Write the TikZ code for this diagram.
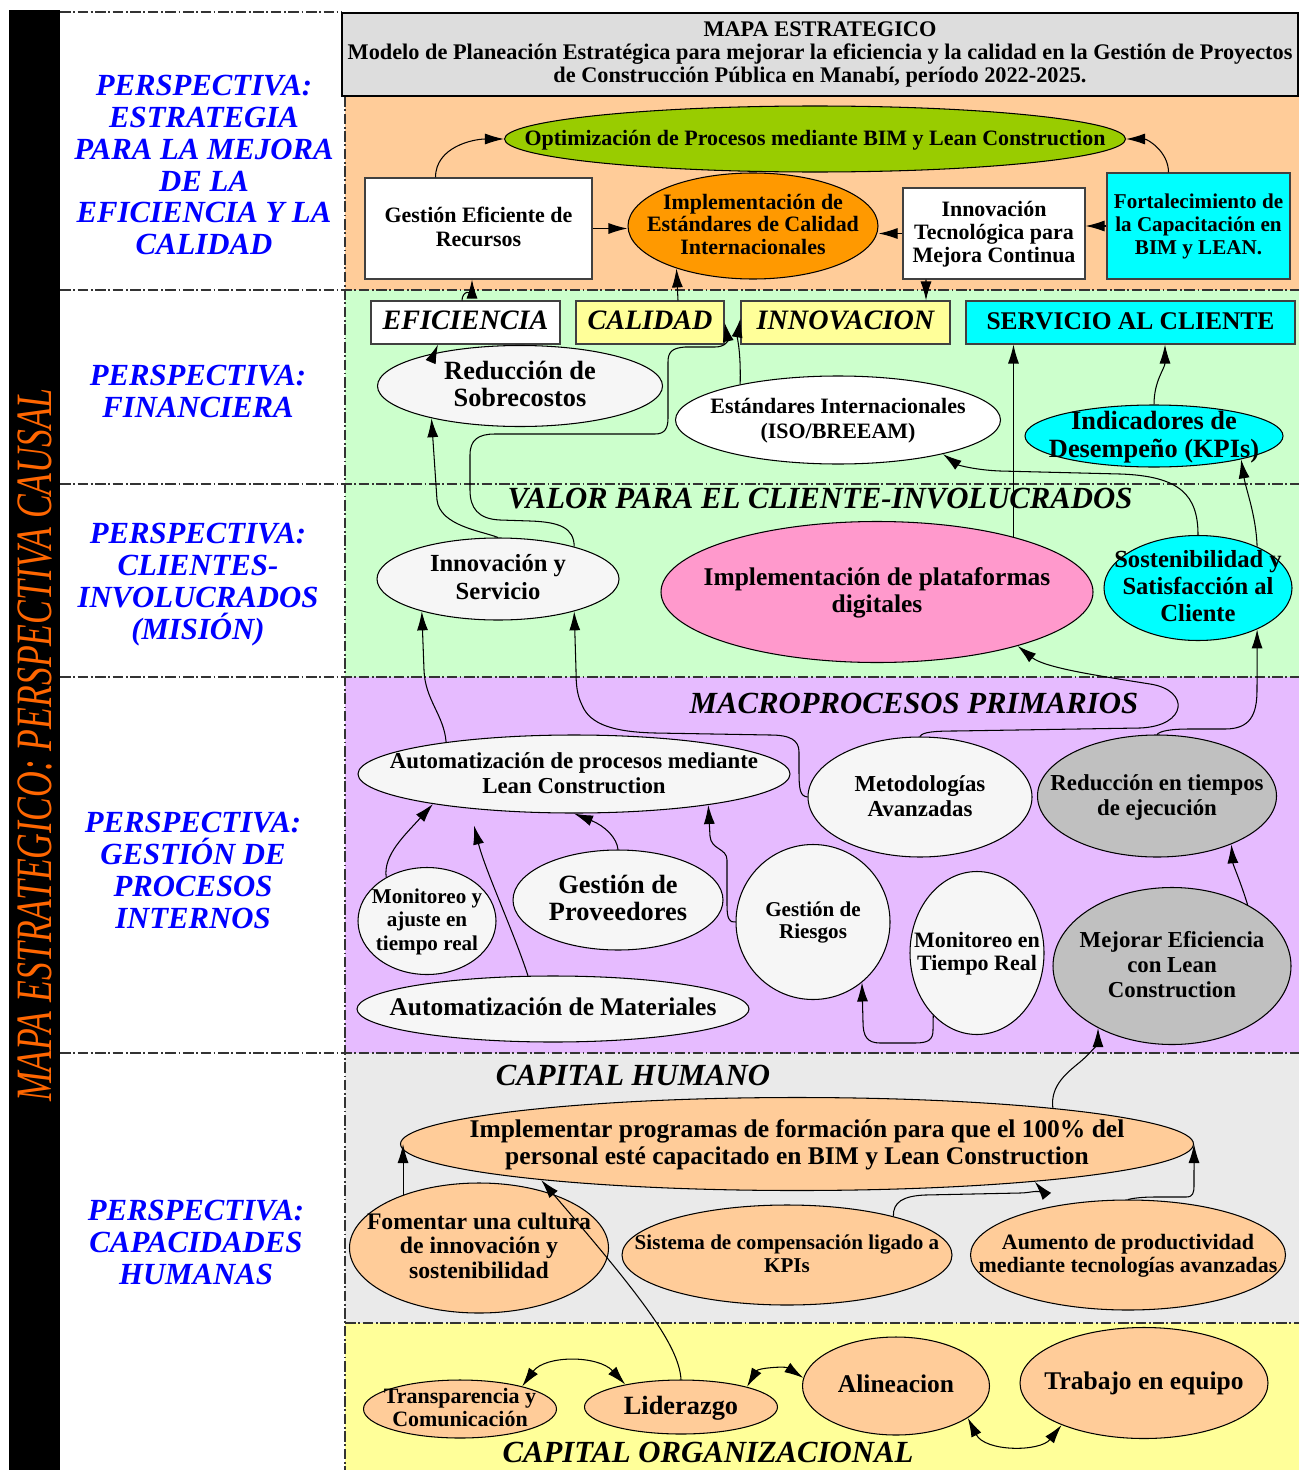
\documentclass[tikz,border=0pt]{standalone}
\usepackage{fontspec}
\usepackage{graphicx}
\setmainfont{Liberation Serif}
\usepackage{xcolor}
\usepackage{tikz}
\usetikzlibrary{arrows.meta,shapes.geometric,calc}

\definecolor{bandorange}{RGB}{255,204,153}
\definecolor{bandgreen}{RGB}{204,255,204}
\definecolor{bandlilac}{RGB}{230,187,255}
\definecolor{bandgray}{RGB}{234,234,234}
\definecolor{bandyellow}{RGB}{255,255,153}
\definecolor{headgray}{RGB}{221,221,221}
\definecolor{limegreen}{RGB}{153,204,0}
\definecolor{deeporange}{RGB}{255,153,0}
\definecolor{paleyellow}{RGB}{255,255,153}
\definecolor{pinkfill}{RGB}{255,153,204}
\definecolor{lightfill}{RGB}{246,246,246}
\definecolor{midgray}{RGB}{192,192,192}
\definecolor{peach}{RGB}{255,204,153}
\definecolor{aqua}{RGB}{0,255,255}
\definecolor{causal}{RGB}{255,102,0}

% centred text that does not make the shape grow
\newcommand{\ctr}[1]{\smash{\makebox[0pt]{\raisebox{-0.3em}{\begin{tabular}{@{}c@{}}#1\end{tabular}}}}}

\tikzset{
  oval/.style={ellipse, draw=black, line width=0.6pt, inner sep=0pt},
  sqbox/.style={rectangle, draw=black!75, line width=0.6pt, inner sep=0pt},
  sz/.style 2 args={minimum width=#1*0.02cm, minimum height=#2*0.02cm},
  fs/.style 2 args={font=\bfseries\fontsize{#1}{#2}\selectfont},
  tagbox/.style={sqbox, font=\bfseries\itshape\fontsize{16}{18}\selectfont},
  arr/.style={-{Latex[length=3.8mm,width=2.2mm]}, line width=0.6pt},
  darr/.style={{Latex[length=3.8mm,width=2.2mm]}-{Latex[length=3.8mm,width=2.2mm]}, line width=0.6pt},
  sepline/.style={line width=0.7pt, black!80, dash pattern=on 6pt off 1.5pt on 1pt off 1.5pt},
  persp/.style={text=blue, align=center, font=\bfseries\itshape\fontsize{17.5}{18.2}\selectfont},
  band/.style={font=\bfseries\itshape\fontsize{17.5}{18}\selectfont},
}

\begin{document}
\begin{tikzpicture}[x=0.02cm,y=-0.02cm]
\useasboundingbox (0,0) rectangle (1299,1470);

% bands
\fill[bandorange] (345,96) rectangle (1299,290);
\fill[bandgreen] (345,290) rectangle (1299,677);
\fill[bandlilac] (345,677) rectangle (1299,1053);
\fill[bandgray] (345,1053) rectangle (1299,1323);
\fill[bandyellow] (345,1323) rectangle (1299,1470);
\fill[black] (9,10) rectangle (60,1470);
\draw[sepline] (60,12) -- (342,12);
\foreach \yy in {290,484,677,1053}
  \draw[sepline] (60,\yy) -- (1299,\yy);
\draw[sepline] (345,1323) -- (1299,1323);
\draw[sepline] (345,96) -- (345,1470);

% header
\node[draw=black, line width=0.8pt, fill=headgray, sz={956}{83}, inner sep=0pt, align=center,
  font=\bfseries\fontsize{12.7}{13}\selectfont] (head) at (820,54.5)
  {MAPA ESTRATEGICO\\ Modelo de Planeación Estratégica para mejorar la eficiencia y la calidad en la Gestión de Proyectos\\ de Construcción Pública en Manabí, período 2022-2025.};

% left column
\node[rotate=90, text=causal, font=\itshape\fontsize{29}{29}\selectfont] (causal) at (35,745)
  {\scalebox{0.7}[1]{MAPA ESTRATEGICO: PERSPECTIVA CAUSAL}};
\node[persp] (pEst) at (204,165) {PERSPECTIVA:\\ ESTRATEGIA\\ PARA LA MEJORA\\ DE LA\\ EFICIENCIA Y LA\\ CALIDAD};
\node[persp] (pFin) at (198,391) {PERSPECTIVA:\\ FINANCIERA};
\node[persp] (pCli) at (198,585) {PERSPECTIVA:\\ CLIENTES-\\ INVOLUCRADOS\\ (MISIÓN)};
\node[persp] (pPro) at (193,870) {PERSPECTIVA:\\ GESTIÓN DE\\ PROCESOS\\ INTERNOS};
\node[persp] (pCap) at (196,1242) {PERSPECTIVA:\\ CAPACIDADES\\ HUMANAS};

% band titles
\node[band] (tValor) at (820,499) {VALOR PARA EL CLIENTE-INVOLUCRADOS};
\node[band] (tMacro) at (914,703) {MACROPROCESOS PRIMARIOS};
\node[band] (tHum) at (633,1075) {CAPITAL HUMANO};
\node[band] (tOrg) at (708,1452) {CAPITAL ORGANIZACIONAL};

% estrategia
\node[oval, fill=limegreen, sz={621}{66}, fs={12.5}{14}] (opt) at (815,139) {\ctr{Optimización de Procesos mediante BIM y Lean Construction}};
\node[sqbox, fill=white, sz={227}{101}, fs={12.5}{13.5}] (gest) at (478.5,228.5) {\ctr{Gestión Eficiente de\\ Recursos}};
\node[oval, fill=deeporange, sz={250}{106}, fs={12.5}{13}] (impl) at (753,226) {\ctr{Implementación de\\ Estándares de Calidad\\ Internacionales}};
\node[sqbox, fill=white, sz={182}{91}, fs={12.5}{13}] (innov) at (994,233.5) {\ctr{Innovación\\ Tecnológica para\\ Mejora Continua}};
\node[sqbox, fill=aqua, sz={183}{106}, fs={12}{13}] (fort) at (1198.5,226) {\ctr{Fortalecimiento de\\ la Capacitación en\\ BIM y LEAN.}};

% financiera
\node[tagbox, fill=white, sz={189}{43}] (efic) at (465.5,322.5) {\ctr{EFICIENCIA}};
\node[tagbox, fill=paleyellow, sz={148}{43}] (cal) at (650,322.5) {\ctr{CALIDAD}};
\node[tagbox, fill=paleyellow, sz={209}{43}] (innv) at (845.5,322.5) {\ctr{INNOVACION}};
\node[sqbox, fill=aqua, sz={329}{43}, fs={14.5}{16}] (serv) at (1130.5,322.5) {\ctr{SERVICIO AL CLIENTE}};
\node[oval, fill=lightfill, sz={285}{81}, fs={15}{15.5}] (redu) at (520,386) {\ctr{Reducción de\\ Sobrecostos}};
\node[oval, fill=white, sz={325}{88}, fs={12.5}{14}] (estd) at (838,420) {\ctr{Estándares Internacionales\\ (ISO/BREEAM)}};
\node[oval, fill=aqua, sz={258}{62}, fs={15}{16}] (kpi) at (1154,436) {\ctr{Indicadores de\\ Desempeño (KPIs)}};

% clientes
\node[oval, fill=lightfill, sz={242}{82}, fs={14}{15.5}] (innserv) at (498,579) {\ctr{Innovación y\\ Servicio}};
\node[oval, fill=pinkfill, sz={432}{141}, fs={14.5}{15.5}] (pink) at (877,592) {\ctr{Implementación de plataformas\\ digitales}};
\node[oval, fill=aqua, sz={188}{105}, fs={14}{15.5}] (sost) at (1198,588) {\ctr{Sostenibilidad y\\ Satisfacción al\\ Cliente}};

% procesos internos
\node[oval, fill=lightfill, sz={432}{78}, fs={13}{14.2}] (autp) at (574,774) {\ctr{Automatización de procesos mediante\\ Lean Construction}};
\node[oval, fill=lightfill, sz={224}{120}, fs={13}{14.2}] (met) at (920,797) {\ctr{Metodologías\\ Avanzadas}};
\node[oval, fill=midgray, sz={239}{122}, fs={13}{14.2}] (redt) at (1157,796) {\ctr{Reducción en tiempos\\ de ejecución}};
\node[oval, fill=lightfill, sz={138}{107}, fs={12}{13.4}] (monr) at (427,921) {\ctr{Monitoreo y\\ ajuste en\\ tiempo real}};
\node[oval, fill=lightfill, sz={210}{100}, fs={15}{15.5}] (gprov) at (618,900) {\ctr{Gestión de\\ Proveedores}};
\node[oval, fill=lightfill, sz={154}{155}, fs={12}{12.5}] (griesg) at (813,922) {\ctr{Gestión de\\ Riesgos}};
\node[oval, fill=lightfill, sz={134}{163}, fs={12.5}{13}] (montr) at (977,953) {\ctr{Monitoreo en\\ Tiempo Real}};
\node[oval, fill=midgray, sz={238}{157}, fs={13}{14.2}] (mejo) at (1172,966) {\ctr{Mejorar Eficiencia\\ con Lean\\ Construction}};
\node[oval, fill=lightfill, sz={392}{66}, fs={14.5}{16}] (autm) at (553,1009) {\ctr{Automatización de Materiales}};

% capital humano
\node[oval, fill=peach, sz={793}{93}, fs={14.5}{15.4}] (prog) at (797,1144) {\ctr{Implementar programas de formación para que el 100\% del\\ personal esté capacitado en BIM y Lean Construction}};
\node[oval, fill=peach, sz={259}{130}, fs={13.5}{14}] (fom) at (479,1248) {\ctr{Fomentar una cultura\\ de innovación y\\ sostenibilidad}};
\node[oval, fill=peach, sz={330}{100}, fs={12}{13}] (sist) at (787,1255) {\ctr{Sistema de compensación ligado a\\ KPIs}};
\node[oval, fill=peach, sz={315}{110}, fs={12.5}{13}] (aum) at (1128,1255) {\ctr{Aumento de productividad\\ mediante tecnologías avanzadas}};

% capital organizacional
\node[oval, fill=peach, sz={193}{58}, fs={12.5}{13}] (transp) at (460,1409) {\ctr{Transparencia y\\ Comunicación}};
\node[oval, fill=peach, sz={193}{54}, fs={15}{16}] (lid) at (681,1407) {\ctr{Liderazgo}};
\node[oval, fill=peach, sz={187}{98}, fs={14.5}{16}] (alin) at (896,1386) {\ctr{Alineacion}};
\node[oval, fill=peach, sz={248}{111}, fs={14.5}{16}] (trab) at (1144,1383) {\ctr{Trabajo en equipo}};

% arrows, estrategia
\draw[arr] ($(gest.north)+(-43,0)$) to[out=90,in=180] (opt.west);
\draw[arr] (gest.east) -- (gest.east -| impl.west);
\draw[arr] (innov.west) -- (innov.west -| impl.east);
\draw[arr] (fort.west) -- (fort.west -| innov.east);
\draw[arr] ($(fort.north)+(-30,0)$) to[out=90,in=0] (opt.east);
\draw[arr] ($(innov.south)+(-68,0)$) -- ($(innv.north)+(80.5,0)$);
\draw[arr] ($(cal.north)+(28,0)$) -- (impl.209.5);

% arrows, financiera
\draw[arr] ($(efic.north)+(-3.5,0)$) to[out=90,in=-90] ($(gest.south)+(-6.5,0)$);
\draw[arr] (redu.159) -- ($(efic.south)+(-27.5,0)$);
\draw[arr] (estd.160) .. controls (741,350) and (737,338) .. ($(innv.west)+(0,-4)$);
\draw[arr] (kpi.north) to[out=90,in=-90] ($(serv.south)+(34.5,0)$);

% arrows, clientes
\draw[arr] (innserv.23) .. controls (574,528) and (560,522) .. (530,521) -- (500,520)
  .. controls (478,519) and (470,508) .. (470,490) -- (470,455)
  .. controls (470,440) and (478,434) .. (495,434) -- (655,434)
  .. controls (665,434) and (668,428) .. (668,418) -- (668,362)
  .. controls (668,352) and (672,348) .. (685,347) -- (715,347)
  .. controls (726,347) and (728,340) .. (cal.east);
\draw[arr] (innserv.north) .. controls (482,531) and (440,526) .. (437,500) -- (redu.200);
\draw[arr] (pink.22.2) -- (pink.22.2 |- serv.south);
\draw[arr] (sost.north) .. controls (1198,495) and (1180,476) .. (1120,474) -- (1000,471)
  .. controls (975,470) and (958,465) .. (estd.342.5);
\draw[arr] (sost.35.5) .. controls (1256,515) and (1246,490) .. (kpi.345);

% arrows, procesos
\draw[arr] (autp.166.6) .. controls (444,715) and (425,700) .. (424,670) -- (innserv.203.6);
\draw[arr] (met.west) .. controls (800,796) and (799,790) .. (799,770) -- (799,752)
  .. controls (799,740) and (790,735) .. (770,735) -- (655,733)
  .. controls (615,732) and (590,725) .. (582,705)
  .. controls (577,695) and (576,685) .. (576,670) -- (innserv.337);
\draw[arr] (met.north) .. controls (922,732) and (935,731) .. (955,731) -- (1140,728)
  .. controls (1188,726) and (1190,690) .. (1150,684)
  .. controls (1100,676) and (1045,668) .. (pink.339.7);
\draw[arr] (redt.north) .. controls (1160,731) and (1170,729) .. (1190,729) -- (1225,729)
  .. controls (1250,729) and (1257,715) .. (1257,690) -- (sost.325.3);
\draw[arr] (monr.133) .. controls (383,855) and (405,835) .. (autp.192.4);
\draw[arr] (autm.127) .. controls (515,935) and (485,870) .. ($(autp.south)+(-100,12)$);
\draw[arr] (gprov.north) .. controls (617,838) and (605,826) .. (autp.south);
\draw[arr] (griesg.west) .. controls (729,923) and (727,918) .. (727,905) -- (727,860)
  .. controls (727,848) and (711,850) .. (710,836) -- (autp.347.3);
\draw[arr] (montr.235.5) -- (933,1030) .. controls (933,1040) and (928,1043) .. (915,1043) -- (880,1043)
  .. controls (867,1043) and (863,1036) .. (863,1022) -- (griesg.309.3);
\draw[arr] (mejo.39.1) .. controls (1240,880) and (1233,865) .. (redt.327.7);

% arrows, capital humano
\draw[arr] (prog.8.2) .. controls (1050,1085) and (1068,1072) .. (1080,1062)
  .. controls (1092,1052) and (1098,1042) .. (mejo.220.3);
\draw[arr] (fom.145.8) -- (fom.145.8 |- prog.west);
\draw[arr] (sist.20.2) .. controls (893,1202) and (903,1196) .. (925,1195) -- (1020,1193)
  .. controls (1032,1193) and (1040,1188) .. (prog.351.6);
\draw[arr] (aum.north) .. controls (1130,1199) and (1138,1197) .. (1155,1197) -- (1186,1197)
  .. controls (1193,1197) and (1194,1193) .. (1194,1185) -- (prog.east);
\draw[arr] (lid.north) .. controls (679,1345) and (640,1295) .. (prog.188.7);

% arrows, capital organizacional
\draw[darr] (transp.20) .. controls (545,1355) and (598,1355) .. (lid.158);
\draw[darr] (lid.17.5) .. controls (758,1368) and (785,1366) .. (alin.175);
\draw[darr] (alin.336) .. controls (985,1452) and (1040,1452) .. (trab.207);
\end{tikzpicture}
\end{document}
